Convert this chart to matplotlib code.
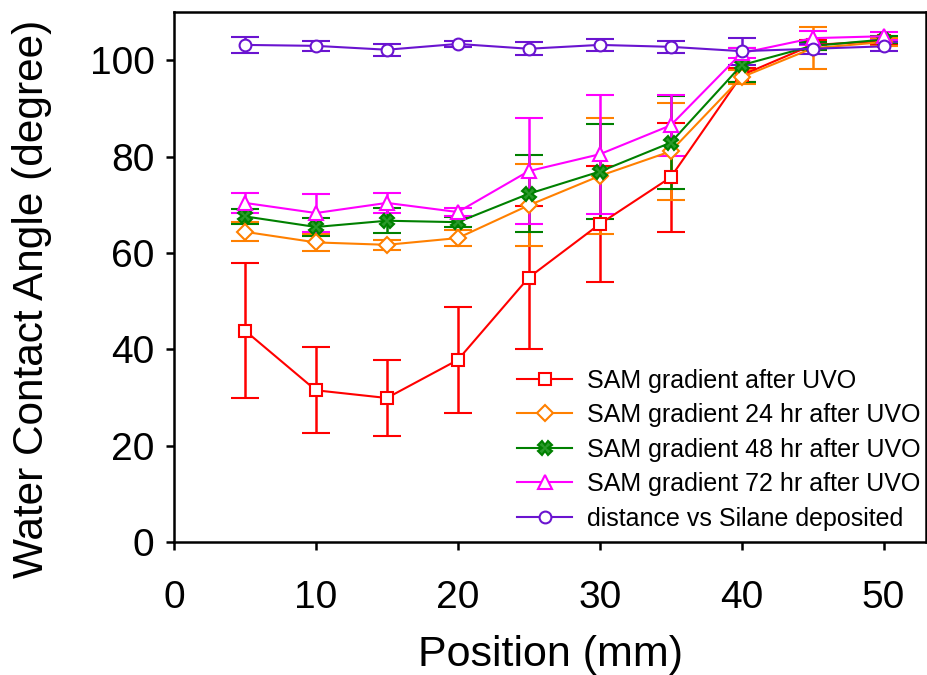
import matplotlib
matplotlib.use("Agg")
import matplotlib.pyplot as plt

plt.rcParams['font.family'] = ['Liberation Sans', 'DejaVu Sans']

position = [5, 10, 15, 20, 25, 30, 35, 40, 45, 50]

uvo_0 = [43.9, 31.5, 29.9, 37.8, 54.9, 66.0, 75.7, 96.9, 103.2, 104.0]
uvo_0_err = [14.0, 8.9, 7.8, 11.0, 14.9, 12.0, 11.3, 1.5, 1.0, 0.8]
uvo_24 = [64.4, 62.2, 61.7, 63.1, 69.9, 76.0, 81.1, 96.5, 102.5, 103.8]
uvo_24_err = [2.0, 1.8, 1.1, 1.7, 8.5, 12.0, 10.0, 1.5, 4.4, 0.8]
uvo_48 = [67.6, 65.4, 66.7, 66.4, 72.3, 76.9, 82.9, 99.0, 103.0, 104.3]
uvo_48_err = [1.5, 1.8, 2.6, 1.0, 8.0, 9.9, 9.7, 3.5, 0.8, 0.8]
uvo_72 = [70.4, 68.3, 70.4, 68.5, 77.0, 80.5, 86.5, 101.5, 104.6, 105.0]
uvo_72_err = [2.0, 4.0, 2.0, 0.8, 11.0, 12.3, 6.4, 1.0, 1.5, 0.8]
silane = [103.2, 103.0, 102.2, 103.4, 102.4, 103.2, 102.8, 101.9, 102.4, 102.9]
silane_err = [1.7, 1.0, 1.2, 0.6, 1.3, 1.2, 1.2, 2.8, 1.0, 1.0]

labels = ["SAM gradient after UVO", "SAM gradient 24 hr after UVO",
          "SAM gradient 48 hr after UVO", "SAM gradient 72 hr after UVO",
          "distance vs Silane deposited"]

fig = plt.figure(figsize=(9.27, 6.75), dpi=100)
ax = fig.add_axes([0.1877, 0.197, 0.8113, 0.785])

series = [
    (uvo_0, uvo_0_err, '#ff0000', 's', 8.5, 'white'),
    (uvo_24, uvo_24_err, '#ff8000', 'D', 8, 'white'),
    (uvo_48, uvo_48_err, '#008000', 'X', 10, '#2a9a2a'),
    (uvo_72, uvo_72_err, '#ff00ff', '^', 10, 'white'),
    (silane, silane_err, '#6a14d0', 'o', 8.5, 'white'),
]
for (y, err, c, m, ms, fc), lab in zip(series, labels):
    ax.errorbar(position, y, yerr=err, color=c, marker=m, markersize=ms,
                markerfacecolor=fc, markeredgecolor=c, markeredgewidth=1.5,
                linewidth=1.5, elinewidth=1.8, capsize=10, capthick=1.8,
                label=lab)

ax.set_xlim(0, 53)
ax.set_ylim(0, 110)
ax.set_xticks([0, 10, 20, 30, 40, 50])
ax.set_yticks([0, 20, 40, 60, 80, 100])
for s in ax.spines.values():
    s.set_linewidth(1.8)
ax.tick_params(direction='out', length=6, width=1.8, labelsize=28)
ax.tick_params(axis='x', pad=21)
ax.tick_params(axis='y', pad=8)
ax.set_xlabel("Position (mm)", fontsize=31, labelpad=14)
ax.set_ylabel("Water Contact Angle (degree)", fontsize=30.5, labelpad=27)
ax.yaxis.label.set_y(0.458)

handles, labs = ax.get_legend_handles_labels()
handles = [h[0] for h in handles]
ax.legend(handles, labs, loc='lower right', bbox_to_anchor=(1.0, 0.012),
          frameon=False, fontsize=18, handlelength=2.2, handletextpad=0.6,
          labelspacing=0.42, borderaxespad=0.0, borderpad=0.2)

fig.savefig("out.png", dpi=100)
